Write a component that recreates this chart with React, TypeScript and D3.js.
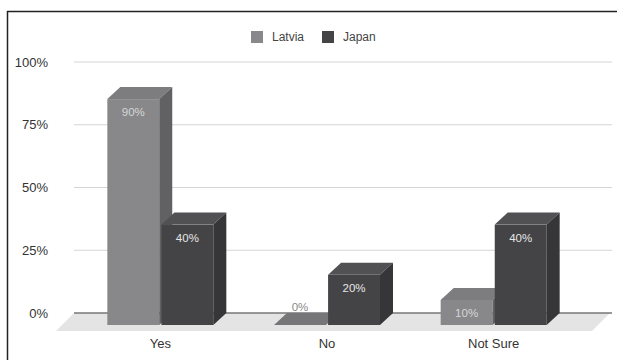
import React from 'react';
import * as d3 from 'd3';

const categories = ['Yes', 'No', 'Not Sure'];
const seriesNames = ['Latvia', 'Japan'];
const latvia = [0.9, 0, 0.1];
const japan = [0.4, 0.2, 0.4];
const yTicks = [0, 0.25, 0.5, 0.75, 1];

const W = 617, H = 360;
const DX = 13, DY = 12;
const FONT = '"Liberation Sans", Arial, sans-serif';

const colors: Record<string, { front: string; top: string; side: string; label: string; flat: string }> = {
  Latvia: { front: '#88888a', top: '#7d7d7f', side: '#616163', label: '#d6d6d6', flat: '#767678' },
  Japan: { front: '#444446', top: '#515153', side: '#363638', label: '#e6e6e6', flat: '#444446' },
};

export default function App() {
  const y = d3.scaleLinear().domain([0, 1]).range([313, 62]);
  const x0 = d3.scaleBand<string>().domain(categories).range([77, 577]).padding(0);
  const groupW = 106;
  const x1 = d3.scaleBand<string>().domain(seriesNames)
    .range([(x0.bandwidth() - groupW) / 2, (x0.bandwidth() + groupW) / 2])
    .paddingInner(0.04);
  const w = x1.bandwidth();
  const data = [latvia, japan];

  const bars: JSX.Element[] = [];
  categories.forEach((cat, ci) => {
    seriesNames.forEach((s, si) => {
      const v = data[si][ci];
      const c = colors[s];
      const x = (x0(cat) ?? 0) + (x1(s) ?? 0);
      const yf = y(v) + DY;
      const yb = y(0) + DY;
      const key = `${cat}-${s}`;
      if (v === 0) {
        bars.push(
          <g key={key}>
            <polygon points={`${x},${yb} ${x + DX},${yb - DY} ${x + w + DX},${yb - DY} ${x + w},${yb}`} fill={c.flat} />
            <text x={x + w / 2} y={yb - DY - 2} textAnchor="middle" fontSize={11.5} fill="#8a8a8a" fontFamily={FONT}>{d3.format('.0%')(v)}</text>
          </g>
        );
      } else {
        bars.push(
          <g key={key}>
            <rect x={x} y={yf} width={w} height={yb - yf} fill={c.front} />
            <polygon points={`${x},${yf} ${x + DX},${yf - DY} ${x + w + DX},${yf - DY} ${x + w},${yf}`} fill={c.top} />
            <polygon points={`${x + w},${yf} ${x + w + DX},${yf - DY} ${x + w + DX},${yb - DY} ${x + w},${yb}`} fill={c.side} />
            <text x={x + w / 2} y={yf + 17} textAnchor="middle" fontSize={11.5} fill={c.label} fontFamily={FONT}>{d3.format('.0%')(v)}</text>
          </g>
        );
      }
    });
  });

  return (
    <svg width={W} height={H} style={{ position: 'absolute', left: 0, top: 0, background: '#fff' }} fontFamily={FONT}>
      <rect x={0} y={0} width={W} height={H} fill="#fff" />
      <line x1={7} y1={11.5} x2={W} y2={11.5} stroke="#222" strokeWidth={1.5} />
      <line x1={7.5} y1={11} x2={7.5} y2={H} stroke="#222" strokeWidth={1.5} />

      {/* legend */}
      <rect x={251} y={31} width={12} height={12} fill={colors.Latvia.front} />
      <text x={272} y={41} fontSize={12} fill="#444">Latvia</text>
      <rect x={322} y={31} width={12} height={12} fill={colors.Japan.front} />
      <text x={343} y={41} fontSize={12} fill="#444">Japan</text>

      {/* gridlines */}
      {yTicks.filter(t => t > 0).map(t => (
        <line key={t} x1={74} x2={612} y1={y(t)} y2={y(t)} stroke="#d4d4d4" strokeWidth={1} />
      ))}
      {yTicks.map(t => (
        <text key={t} x={48} y={y(t) + 4.5} textAnchor="end" fontSize={13} fill="#333">{d3.format('.0%')(t)}</text>
      ))}

      {/* floor */}
      <polygon points={`56,331 74,${y(0)} 610,${y(0)} 592,331`} fill="#e4e4e4" />
      <line x1={74} x2={612} y1={y(0)} y2={y(0)} stroke="#777" strokeWidth={1.5} />

      {bars}

      {categories.map(cat => (
        <text key={cat} x={(x0(cat) ?? 0) + x0.bandwidth() / 2} y={347.5} textAnchor="middle" fontSize={13} fill="#333">{cat}</text>
      ))}
    </svg>
  );
}
